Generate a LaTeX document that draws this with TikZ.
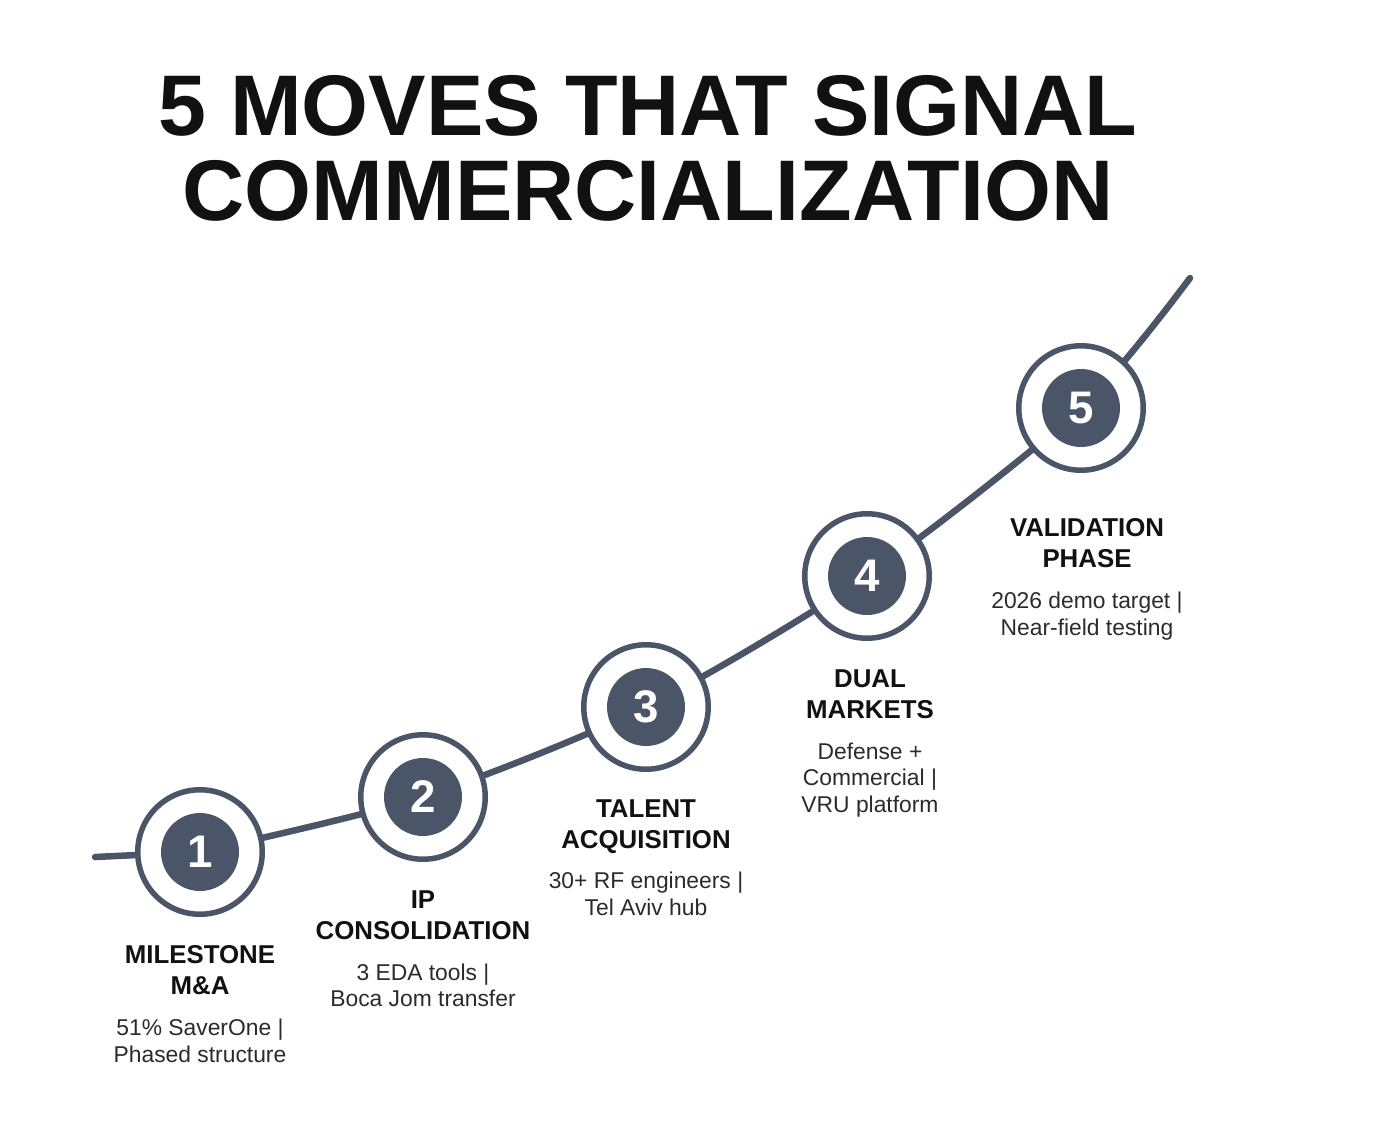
\documentclass[tikz,border=0pt]{standalone}
\usepackage{fontspec}
\setmainfont{Liberation Sans}
\usetikzlibrary{positioning,backgrounds}
\definecolor{slate}{HTML}{4A5568}
\definecolor{inkblack}{HTML}{111111}
\definecolor{inkgray}{HTML}{2B2B2B}

\begin{document}
\begin{tikzpicture}[x=0.02cm,y=-0.02cm,
  ring/.style={circle, draw=slate, line width=0.11cm, fill=white, minimum size=2.49cm, inner sep=0pt},
  disc/.style={circle, fill=slate, text=white, minimum size=1.56cm, inner sep=0pt, font=\fontsize{26}{28}\selectfont\bfseries},
  head/.style={align=center, inner sep=0pt, text=inkblack, font=\fontsize{14.7}{17.6}\selectfont\bfseries},
  desc/.style={align=center, inner sep=0pt, text=inkgray, font=\fontsize{13}{15.3}\selectfont},
  track/.style={slate, line width=0.13cm, line cap=round}]
\useasboundingbox (0,0) rectangle (1390,1126);
\node[anchor=north, align=center, inner sep=0pt, text=inkblack, font=\fontsize{49}{48.2}\selectfont\bfseries] (title) at (648,75) {5 MOVES THAT SIGNAL\\COMMERCIALIZATION};
\foreach \n/\x/\y in {1/200/852,2/423/797,3/646/707,4/867/576,5/1081/408}
  {\node[ring] (c\n) at (\x,\y) {}; \node[disc] (d\n) at (c\n) {\n};}
\coordinate (start) at (95,857);
\coordinate (finish) at (1190,278);
\begin{scope}[on background layer]
\fill[white] (0,0) rectangle (1390,1126);
\draw[track] (start) -- (c1.center);
\draw[track] plot[smooth, tension=0.45] coordinates {(c1.center) (c2.center) (c3.center) (c4.center) (c5.center) (finish)};
\end{scope}
\node[head, below=0.57cm of c1] (h1) {MILESTONE\\M\&A};
\node[desc, below=0.46cm of h1] (t1) {51\% SaverOne |\\Phased structure};
\node[head, below=0.57cm of c2] (h2) {IP\\CONSOLIDATION};
\node[desc, below=0.46cm of h2] (t2) {3 EDA tools |\\Boca Jom transfer};
\node[head, below=0.55cm of c3] (h3) {TALENT\\ACQUISITION};
\node[desc, below=0.36cm of h3] (t3) {30+ RF engineers |\\Tel Aviv hub};
\node[head, below=0.57cm of c4, xshift=0.06cm] (h4) {DUAL\\MARKETS};
\node[desc, below=0.46cm of h4] (t4) {Defense +\\Commercial |\\VRU platform};
\node[head, below=0.91cm of c5, xshift=0.12cm] (h5) {VALIDATION\\PHASE};
\node[desc, below=0.46cm of h5] (t5) {2026 demo target |\\Near-field testing};
\end{tikzpicture}
\end{document}
